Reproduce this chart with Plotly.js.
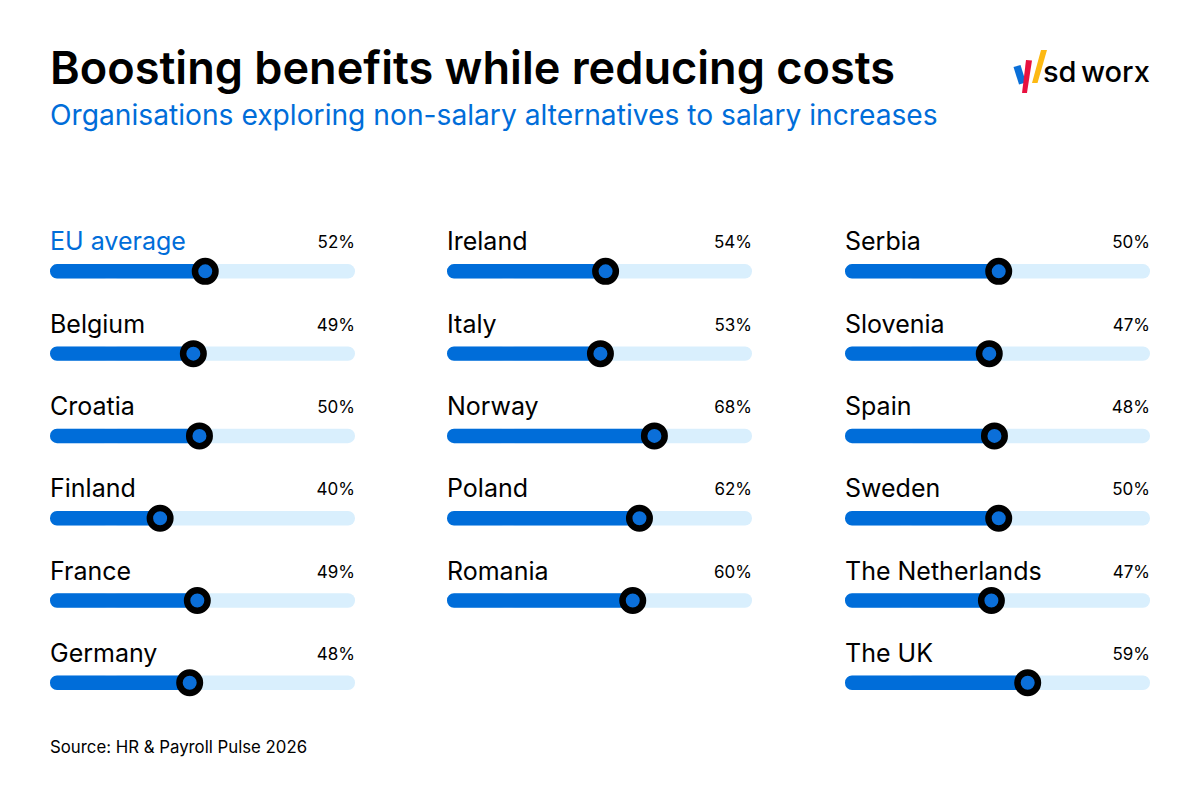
<!DOCTYPE html>
<html><head><meta charset="utf-8">
<script src="https://cdn.plot.ly/plotly-3.0.1.min.js"></script>
<style>html,body{margin:0;padding:0;background:#fff}</style></head>
<body><div id="chart" style="width:1200px;height:800px"></div>
<script>
const col1Names = ["EU average","Belgium","Croatia","Finland","France","Germany"];
const col1Labels = ["52%","49%","50%","40%","49%","48%"];
const col1Fill = [50.9,47.0,49.0,36.1,48.3,45.8];
const col2Names = ["Ireland","Italy","Norway","Poland","Romania"];
const col2Labels = ["54%","53%","68%","62%","60%"];
const col2Fill = [52.0,50.3,68.0,63.1,60.9];
const col3Names = ["Serbia","Slovenia","Spain","Sweden","The Netherlands","The UK"];
const col3Labels = ["50%","47%","48%","50%","47%","59%"];
const col3Fill = [50.4,47.3,49.0,50.4,48.0,59.9];
const titleText = "Boosting benefits while reducing costs";
const subtitleText = "Organisations exploring non-salary alternatives to salary increases";
const sourceText = "Source: HR & Payroll Pulse 2026";
const BLUE="#006dd9", TRACK="#d9effd", INK="#000000", FONT="Inter, sans-serif";
const columns=[
 {names:col1Names,labels:col1Labels,fill:col1Fill,xa:"x"},
 {names:col2Names,labels:col2Labels,fill:col2Fill,xa:"x2"},
 {names:col3Names,labels:col3Labels,fill:col3Fill,xa:"x3"}];
const traces=[];
const BARH=0.176, LABEL_DY=-0.33, SPLIT=20;
columns.forEach(c=>{
 const rows=c.names.map((_,i)=>i);
 // track in two pieces joined under the fill so each outer end gets rounded corners
 traces.push({type:"bar",orientation:"h",base:rows.map(()=>SPLIT),x:rows.map(()=>100-SPLIT),y:rows,xaxis:c.xa,yaxis:"y",width:BARH,
   marker:{color:TRACK,cornerradius:7},hoverinfo:"skip",showlegend:false});
 traces.push({type:"bar",orientation:"h",base:rows.map(()=>SPLIT),x:rows.map(()=>-SPLIT),y:rows,xaxis:c.xa,yaxis:"y",width:BARH,
   marker:{color:TRACK,cornerradius:7},hoverinfo:"skip",showlegend:false});
 // fill drawn from its end back to zero so the left end is the rounded one
 traces.push({type:"bar",orientation:"h",base:c.fill,x:c.fill.map(v=>-v),y:rows,xaxis:c.xa,yaxis:"y",width:BARH,
   marker:{color:BLUE,cornerradius:7},hoverinfo:"skip",showlegend:false});
 traces.push({type:"scatter",mode:"markers",x:c.fill,y:rows,xaxis:c.xa,yaxis:"y",
   marker:{size:20.5,color:"#0b6fd9",line:{color:INK,width:6.5}},hoverinfo:"skip",showlegend:false,cliponaxis:false});
 traces.push({type:"scatter",mode:"text",x:rows.map(()=>0),y:rows.map(r=>r+LABEL_DY),xaxis:c.xa,yaxis:"y",
   text:c.names,textposition:"middle right",cliponaxis:false,hoverinfo:"skip",showlegend:false,
   textfont:{family:FONT,size:25,color:c.names.map(n=>n==="EU average"?BLUE:INK)}});
 traces.push({type:"scatter",mode:"text",x:rows.map(()=>100),y:rows.map(r=>r+LABEL_DY),xaxis:c.xa,yaxis:"y",
   text:c.labels,textposition:"middle left",cliponaxis:false,hoverinfo:"skip",showlegend:false,
   textfont:{family:FONT,size:17,color:INK}});
});
function hidden(dom){return {domain:dom,range:[0,100],visible:false,fixedrange:true};}
const fx=v=>v/1200, fy=v=>1-v/800;
function poly(pts){return pts.map((p,i)=>(i?"L ":"M ")+fx(p[0]).toFixed(4)+" "+fy(p[1]).toFixed(4)).join(" ")+" Z";}
const logo=[
 {pts:[[1013.5,67],[1020.5,65],[1026,82.5],[1019,84.5]],color:"#0a6fd8"},
 {pts:[[1026,60],[1032,60.5],[1027,93],[1022,93]],color:"#e8103f"},
 {pts:[[1041,50],[1047,50],[1037.5,83],[1032,83]],color:"#fdb913"}];
const layout={
 width:1200,height:800,margin:{l:0,r:0,t:0,b:0},paper_bgcolor:"#fff",plot_bgcolor:"#fff",
 barmode:"overlay",showlegend:false,
 title:{text:titleText,x:fx(50),xanchor:"left",xref:"paper",y:fy(68),yanchor:"middle",yref:"paper",
   font:{family:FONT,size:45.1,weight:600,color:INK}},
 xaxis:hidden([fx(50),fx(355)]),
 xaxis2:hidden([fx(447),fx(752)]),
 xaxis3:hidden([fx(845),fx(1150)]),
 yaxis:{range:[6.424,-3.297],visible:false,fixedrange:true},
 annotations:[
  {text:subtitleText,xref:"paper",yref:"paper",x:fx(48),y:fy(115),xanchor:"left",yanchor:"middle",showarrow:false,
   font:{family:FONT,size:28.2,color:BLUE}},
  {text:sourceText,xref:"paper",yref:"paper",x:fx(48),y:fy(747),xanchor:"left",yanchor:"middle",showarrow:false,
   font:{family:FONT,size:16.8,color:INK}},
  {text:"sd",xref:"paper",yref:"paper",x:fx(1079),y:fy(72),xanchor:"right",yanchor:"middle",showarrow:false,
   font:{family:FONT,size:29,weight:500,color:INK}},
  {text:"worx",xref:"paper",yref:"paper",x:fx(1152),y:fy(72),xanchor:"right",yanchor:"middle",showarrow:false,
   font:{family:FONT,size:29,weight:500,color:INK}}
 ],
 shapes:logo.map(l=>({type:"path",xref:"paper",yref:"paper",path:poly(l.pts),fillcolor:l.color,line:{width:0}}))
};
Plotly.newPlot("chart",traces,layout,{displayModeBar:false,staticPlot:true});
</script></body></html>
